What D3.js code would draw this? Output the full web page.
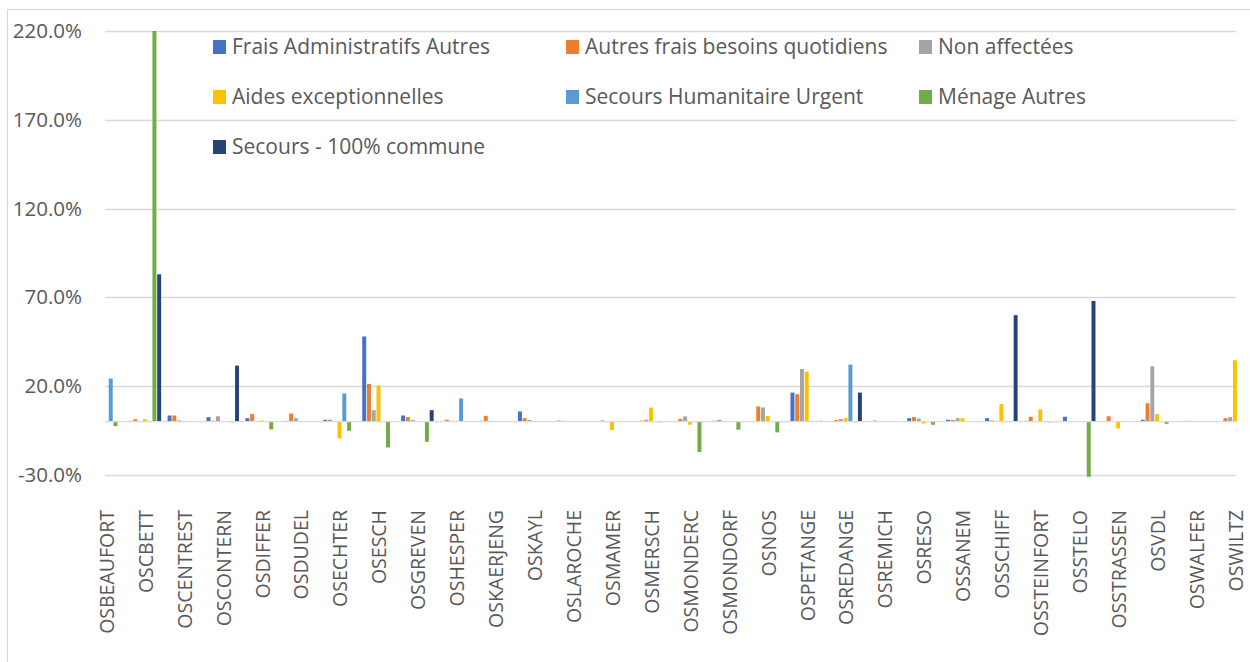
<!DOCTYPE html>
<html>
<head>
<meta charset="utf-8">
<script src="https://cdn.jsdelivr.net/npm/d3@7"></script>
<style>
  html, body { margin: 0; padding: 0; background: #fff; }
  svg { display: block; font-family: "Open Sans", "Noto Sans", sans-serif; }
</style>
</head>
<body>
<svg id="chart" width="1250" height="662"></svg>
<script>
const categories = ["OSBEAUFORT","OSCBETT","OSCENTREST","OSCONTERN","OSDIFFER","OSDUDEL","OSECHTER","OSESCH","OSGREVEN","OSHESPER","OSKAERJENG","OSKAYL","OSLAROCHE","OSMAMER","OSMERSCH","OSMONDERC","OSMONDORF","OSNOS","OSPETANGE","OSREDANGE","OSREMICH","OSRESO","OSSANEM","OSSCHIFF","OSSTEINFORT","OSSTELO","OSSTRASSEN","OSVDL","OSWALFER","OSWILTZ"];

const seriesNames = ["Frais Administratifs Autres","Autres frais besoins quotidiens","Non affectées","Aides exceptionnelles","Secours Humanitaire Urgent","Ménage Autres","Secours - 100% commune"];
const seriesColors = ["#4472C4","#ED7D31","#A5A5A5","#FFC000","#5B9BD5","#70AD47","#264478"];

const fraisAdministratifsAutres = [0,0.5,3.5,2.6,2,0.5,1.1,48,3.5,0,0.5,5.8,0.6,0,0,0,0.5,0,16.4,0,0,2,1.1,2,0.5,2.8,0,1.1,0,0];
const autresFraisBesoins        = [0,1.4,3.5,0.6,4.3,4.6,1.1,21.3,2.6,1.1,3.3,2,0.5,0.7,0.6,1.6,1,8.6,15.5,1,0.7,2.6,1,0.7,2.8,0,3.1,10.4,0.5,2];
const nonAffectees              = [0,0,0.8,3.1,0,2,0,6.5,1,0.5,0.5,1,0,0,1.1,3,0,8,29.7,1.5,0,1.8,2,0,0,0,0,31.2,0.5,2.6];
const aidesExceptionnelles      = [0,1.4,0,0,0.7,0,-9.4,20.4,0,0,0,0,0,-4.7,8,-1.7,0,3.3,28.2,2,0,-1,2,9.9,6.9,0,-3.8,4.3,0,34.6];
const secoursHumanitaireUrgent  = [24.3,0,0,0,0,0,15.9,0,0,13.1,0,0,0,0,0,0,0,0,0.5,32.2,0,0,0,0,0,0,0,0,0,0];
const menageAutres              = [-2.5,220,0,-0.3,-4.3,0,-5.1,-14.5,-11.3,0,0,0,0,0,-0.3,-17.1,-4.5,-6,0,-0.3,0,-1.7,0,0,-0.3,-31,0,-1.2,0,0];
const secours100Commune         = [0,83,0.3,31.6,0,0,0,0,6.5,0,0,0,0,0,0,0,0,0,0.5,16.4,0,0,0,60,0,68,0,0,0,0];

const yTicks = [-30,20,70,120,170,220];

const seriesValues = [fraisAdministratifsAutres, autresFraisBesoins, nonAffectees, aidesExceptionnelles, secoursHumanitaireUrgent, menageAutres, secours100Commune];

const svg = d3.select("#chart");
const textColor = "#595959";
const gridColor = "#d9d9d9";

// outer chart border (cut off at right/bottom like the reference)
svg.append("rect")
  .attr("x", 7.5).attr("y", 9.5)
  .attr("width", 1300).attr("height", 700)
  .attr("fill", "none").attr("stroke", gridColor).attr("stroke-width", 1.2);

const gridX0 = 105, gridX1 = 1236;
const y = d3.scaleLinear().domain([-30, 220]).range([475, 31]);
const x = d3.scaleBand().domain(categories).range([86.5, 1254.4]).paddingInner(0).paddingOuter(0);
const groupW = 33.3;
const xs = d3.scaleBand().domain(d3.range(seriesNames.length)).range([0, groupW]).paddingInner(0);

// gridlines
svg.append("g").selectAll("line").data(yTicks).join("line")
  .attr("x1", gridX0).attr("x2", gridX1)
  .attr("y1", d => Math.round(y(d)) + 0.5).attr("y2", d => Math.round(y(d)) + 0.5)
  .attr("stroke", gridColor).attr("stroke-width", 1.3);

// y axis labels
const yAxis = d3.axisLeft(y).tickValues(yTicks).tickSize(0).tickPadding(0)
  .tickFormat(d => d.toFixed(1) + "%");
const yg = svg.append("g").attr("transform", "translate(82,0)").call(yAxis);
yg.select(".domain").remove();
yg.selectAll("text").attr("fill", textColor).style("font-size", "20.5px")
  .style("font-family", "'Open Sans', 'Noto Sans', sans-serif");

// bars
const groups = svg.append("g").selectAll("g").data(categories).join("g")
  .attr("transform", d => `translate(${x(d) + x.bandwidth() / 2 - groupW / 2},0)`);

groups.selectAll("rect")
  .data((c, ci) => seriesValues.map((arr, si) => ({ si, v: arr[ci] })))
  .join("rect")
  .attr("x", d => xs(d.si) + 0.4)
  .attr("width", xs.bandwidth() - 0.8)
  .attr("y", d => y(Math.max(0, d.v)))
  .attr("height", d => Math.abs(y(d.v) - y(0)))
  .attr("fill", d => seriesColors[d.si]);

// zero axis line
svg.append("line")
  .attr("x1", gridX0).attr("x2", gridX1)
  .attr("y1", y(0)).attr("y2", y(0))
  .attr("stroke", gridColor).attr("stroke-width", 1.3);

// category labels
const xAxis = d3.axisBottom(x).tickSize(0).tickPadding(0);
const xg = svg.append("g").call(xAxis);
xg.select(".domain").remove();
xg.selectAll(".tick").attr("transform", d => `translate(${x(d) + x.bandwidth() / 2 + 1},510)`);
xg.selectAll(".tick text")
  .attr("transform", "rotate(-90)")
  .attr("x", 0).attr("y", 0).attr("dy", "0.35em")
  .attr("text-anchor", "end")
  .attr("fill", textColor)
  .style("font-size", "19.5px")
  .style("font-family", "'Open Sans', 'Noto Sans', sans-serif");

// legend
const legendCols = [213, 566, 919];
const legendRows = [47, 97, 147];
const lg = svg.append("g").selectAll("g").data(seriesNames).join("g")
  .attr("transform", (d, i) => `translate(${legendCols[i % 3]},${legendRows[Math.floor(i / 3)]})`);
lg.append("rect").attr("x", 0).attr("y", -7).attr("width", 13).attr("height", 14)
  .attr("fill", (d, i) => seriesColors[i]);
lg.append("text").attr("x", 19).attr("y", 0).attr("dy", "0.35em")
  .attr("fill", textColor).style("font-size", "21px")
  .text(d => d);
</script>
</body>
</html>
